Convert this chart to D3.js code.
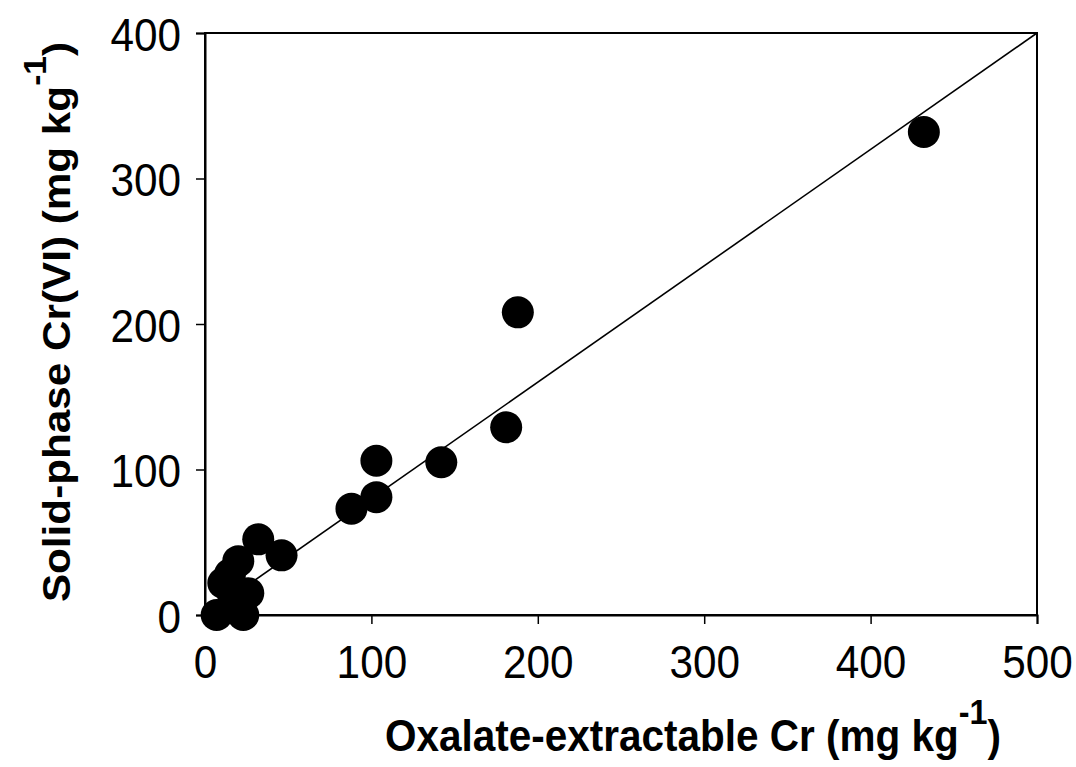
<!DOCTYPE html>
<html>
<head>
<meta charset="utf-8">
<script src="https://cdn.jsdelivr.net/npm/d3@7"></script>
<style>
  html, body { margin: 0; padding: 0; background: #fff; }
  svg { display: block; font-family: Arial, "Liberation Sans", sans-serif; }
</style>
</head>
<body>
<svg id="chart" width="1076" height="767"></svg>
<script>
// Oxalate-extractable Cr vs solid-phase Cr(VI), mg/kg
const oxalateCr = [432, 188, 181, 142, 103, 103, 88, 46, 32, 20, 15, 11, 17, 26, 7, 23];
const solidCrVI = [332, 208, 129, 105, 106, 81, 73, 41, 52, 37, 28, 22, 13, 15, 0, 0];
const xTicks = [0, 100, 200, 300, 400, 500];
const yTicks = [0, 100, 200, 300, 400];
const fitLine = [[0, 0], [500, 400]];

const svg = d3.select("#chart");
const plotL = 205, plotR = 1037, plotT = 33, plotB = 615;
const squeeze = 0.9; // slightly condensed lettering

const x = d3.scaleLinear().domain([0, 500]).range([plotL, plotR]);
const y = d3.scaleLinear().domain([0, 400]).range([plotB, plotT]);

// frame
svg.append("rect")
  .attr("x", plotL).attr("y", plotT)
  .attr("width", plotR - plotL).attr("height", plotB - plotT)
  .attr("fill", "none").attr("stroke", "#000").attr("stroke-width", 2);

// axes
const xAxis = svg.append("g")
  .attr("transform", `translate(0,${plotB})`)
  .call(d3.axisBottom(x).tickValues(xTicks).tickSize(9).tickPadding(0).tickFormat(d3.format("d")));
const yAxis = svg.append("g")
  .attr("transform", `translate(${plotL},0)`)
  .call(d3.axisLeft(y).tickValues(yTicks).tickSize(9).tickPadding(0).tickFormat(d3.format("d")));

[xAxis, yAxis].forEach(g => {
  g.select(".domain").attr("stroke-width", 2);
  g.selectAll(".tick line").attr("stroke-width", 1.5);
  g.selectAll("text").attr("font-size", 47).attr("fill", "#000")
    .attr("font-family", "Arial, 'Liberation Sans', sans-serif");
});
xAxis.selectAll("text")
  .attr("x", 0).attr("y", 0).attr("dy", 0)
  .attr("transform", `translate(0,63) scale(${squeeze},1)`);
yAxis.selectAll("text")
  .attr("x", 0).attr("y", 0).attr("dy", 0)
  .attr("transform", `translate(-24,17) scale(${squeeze},1)`);

// reference line
svg.append("path")
  .datum(fitLine)
  .attr("d", d3.line().x(d => x(d[0])).y(d => y(d[1])))
  .attr("stroke", "#000").attr("stroke-width", 1.6).attr("fill", "none");

// points
svg.append("g").selectAll("circle")
  .data(oxalateCr.map((v, i) => [v, solidCrVI[i]]))
  .join("circle")
  .attr("cx", d => x(d[0])).attr("cy", d => y(d[1]))
  .attr("r", 16).attr("fill", "#000");

// axis titles
const xt = svg.append("text")
  .attr("transform", `translate(693,751) scale(${squeeze},1)`)
  .attr("text-anchor", "middle")
  .attr("font-size", 45).attr("font-weight", "bold");
xt.append("tspan").text("Oxalate-extractable Cr (mg kg");
xt.append("tspan").attr("font-size", 36).attr("dy", -27).text("-1");
xt.append("tspan").attr("dy", 27).text(")");

const yt = svg.append("text")
  .attr("transform", `translate(70,322) rotate(-90) scale(0.96,${squeeze})`)
  .attr("text-anchor", "middle")
  .attr("font-size", 44).attr("font-weight", "bold");
yt.append("tspan").text("Solid-phase Cr(VI) (mg kg");
yt.append("tspan").attr("font-size", 35).attr("dy", -27).text("-1");
yt.append("tspan").attr("dy", 27).text(")");
</script>
</body>
</html>
